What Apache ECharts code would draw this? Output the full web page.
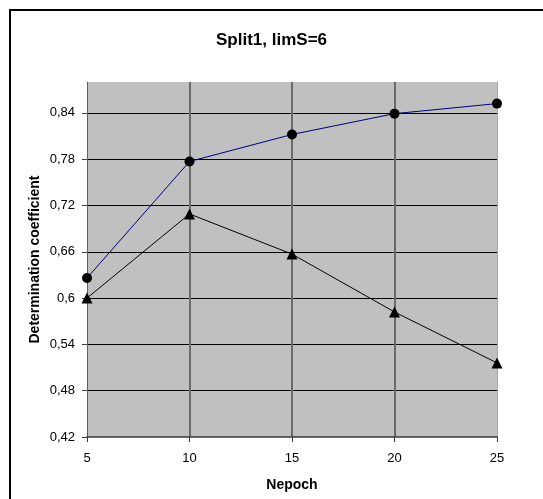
<!DOCTYPE html>
<html>
<head>
<meta charset="utf-8">
<script src="https://cdn.jsdelivr.net/npm/echarts@6/dist/echarts.min.js"></script>
<style>
  html, body { margin: 0; padding: 0; background: #fff; }
  #chart { width: 543px; height: 499px; }
</style>
</head>
<body>
<div id="chart"></div>
<script>
// Epoch counts on the x axis
var epochs = [5, 10, 15, 20, 25];
// Determination coefficient, circle-marked series
var seriesCircle = [0.626, 0.777, 0.812, 0.839, 0.852];
// Determination coefficient, triangle-marked series
var seriesTriangle = [0.600, 0.709, 0.657, 0.582, 0.516];

var titleText = 'Split1, limS=6';
var xName = 'Nepoch';
var yName = 'Determination coefficient';

function pairs(xs, ys) {
  return xs.map(function (x, i) { return [x, ys[i]]; });
}
function commaDecimal(v) {
  return String(Math.round(v * 100) / 100).replace('.', ',');
}

var FONT = '"Liberation Sans", Arial, sans-serif';

var chart = echarts.init(document.getElementById('chart'), null, { renderer: 'canvas' });
chart.setOption({
  animation: false,
  backgroundColor: '#ffffff',
  title: {
    text: titleText,
    left: 'center',
    top: 27,
    textStyle: { fontFamily: FONT, fontSize: 17, fontWeight: 'bold', color: '#000' }
  },
  graphic: [{
    type: 'rect',
    shape: { x: 10, y: 10, width: 800, height: 800 },
    style: { fill: 'none', stroke: '#000', lineWidth: 2 },
    silent: true
  }],
  grid: {
    left: 87, right: 46, top: 82, bottom: 62,
    show: true, backgroundColor: '#c0c0c0', borderWidth: 0
  },
  xAxis: {
    type: 'value',
    min: 5, max: 25, interval: 5,
    name: xName,
    nameLocation: 'middle',
    nameGap: 41,
    nameMoveOverlap: false,
    nameTextStyle: { fontFamily: FONT, fontSize: 14, fontWeight: 'bold', color: '#000' },
    axisLine: { show: true, onZero: false, lineStyle: { color: '#3a3a3a', width: 1.5 } },
    axisTick: { show: true, inside: false, length: 5, lineStyle: { color: '#3a3a3a', width: 1 } },
    axisLabel: { margin: 15, fontFamily: FONT, fontSize: 13, color: '#000' },
    splitLine: { show: true, showMinLine: false, showMaxLine: false, lineStyle: { color: '#6a6a6a', width: 2 } }
  },
  yAxis: [{
    type: 'value',
    min: 0.42, max: 0.88, interval: 0.06,
    name: yName,
    nameLocation: 'middle',
    nameGap: 45,
    nameRotate: 90,
    nameMoveOverlap: false,
    nameTextStyle: { fontFamily: FONT, fontSize: 14, fontWeight: 'bold', color: '#000' },
    axisLine: { show: true, lineStyle: { color: '#606060', width: 1 } },
    axisTick: { show: true, inside: false, length: 5, lineStyle: { color: '#404040', width: 1 } },
    axisLabel: {
      margin: 12, fontFamily: FONT, fontSize: 13, color: '#000',
      showMaxLabel: false,
      formatter: commaDecimal
    },
    splitLine: { show: true, showMinLine: false, showMaxLine: false, lineStyle: { color: '#000', width: 1 } }
  }, {
    type: 'value',
    position: 'right',
    min: 0.42, max: 0.88, interval: 0.06,
    axisLine: { show: true, lineStyle: { color: '#a8a8a8', width: 1 } },
    axisTick: { show: false },
    axisLabel: { show: false },
    splitLine: { show: false }
  }],
  series: [{
    type: 'line',
    data: pairs(epochs, seriesCircle),
    symbol: 'circle',
    symbolSize: 10,
    itemStyle: { color: '#000', borderWidth: 0 },
    lineStyle: { color: '#000080', width: 1 },
    z: 3
  }, {
    type: 'line',
    data: pairs(epochs, seriesTriangle),
    symbol: 'triangle',
    symbolSize: 11,
    itemStyle: { color: '#000', borderWidth: 0 },
    lineStyle: { color: '#000', width: 1 },
    z: 3
  }]
});
</script>
</body>
</html>
